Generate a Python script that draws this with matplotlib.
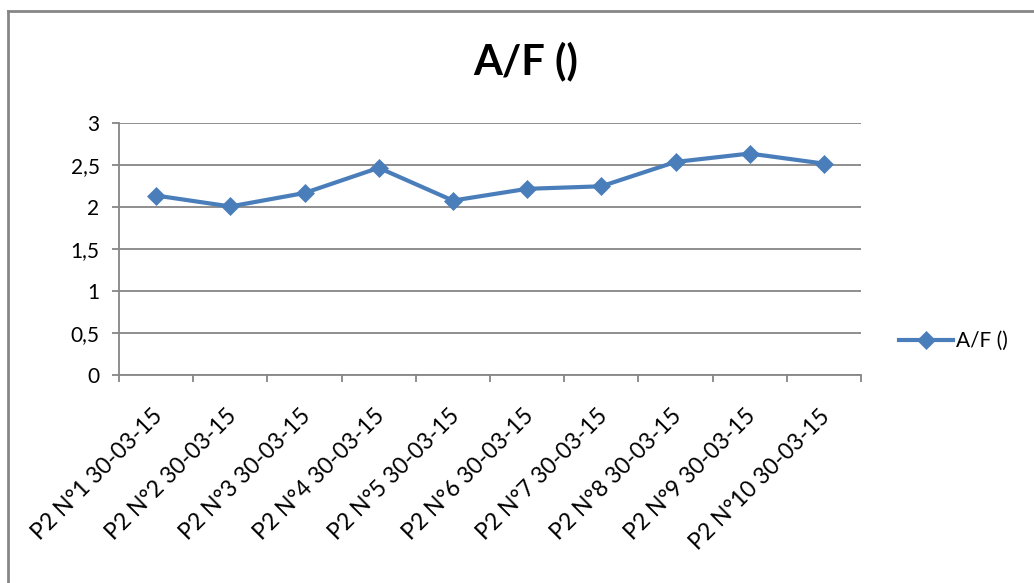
import matplotlib
matplotlib.use("Agg")
import matplotlib.pyplot as plt
import matplotlib.transforms as mtransforms
from matplotlib.lines import Line2D

plt.rcParams["font.family"] = ["Lato", "DejaVu Sans"]

# data
categories = [
    "P2 N°1 30-03-15", "P2 N°2 30-03-15", "P2 N°3 30-03-15", "P2 N°4 30-03-15",
    "P2 N°5 30-03-15", "P2 N°6 30-03-15", "P2 N°7 30-03-15", "P2 N°8 30-03-15",
    "P2 N°9 30-03-15", "P2 N°10 30-03-15",
]
af_values = [2.14, 2.01, 2.17, 2.47, 2.08, 2.22, 2.25, 2.54, 2.64, 2.52]
y_ticks = [0, 0.5, 1, 1.5, 2, 2.5, 3]
y_tick_labels = ["0", "0,5", "1", "1,5", "2", "2,5", "3"]
series_name = "A/F ()"

blue = "#4A7EBB"
grey = "#868686"
fs = 15

fig = plt.figure(figsize=(10.34, 5.83), dpi=100)
ax = fig.add_axes([119 / 1034, 1 - 375.3 / 583, (861 - 119) / 1034, (375.3 - 123.3) / 583])

x = list(range(len(categories)))
ax.plot(x, af_values, color=blue, linewidth=3, marker="D", markersize=9,
        markeredgewidth=0.5, markeredgecolor=blue, label=series_name, zorder=3)

ax.set_xlim(-0.5, len(categories) - 0.5)
ax.set_ylim(0, 3)
ax.set_yticks(y_ticks)
ax.set_yticklabels(y_tick_labels, fontsize=fs)
ax.yaxis.grid(True, color=grey, linewidth=1.3)
ax.set_axisbelow(True)

# category labels on major ticks, tick marks on the boundaries
ax.set_xticks(x)
ax.set_xticklabels(categories, fontsize=16.5, rotation=45, ha="right", va="center",
                   rotation_mode="anchor")
ax.set_xticks([i - 0.5 for i in range(len(categories) + 1)], minor=True)
ax.tick_params(axis="x", which="major", length=0, pad=27)
ax.tick_params(axis="x", which="minor", length=5, width=1.3, color=grey)
ax.tick_params(axis="y", length=5, width=1.3, color=grey, pad=9)
shift = mtransforms.ScaledTranslation(3 / 100, 0, fig.dpi_scale_trans)
for lbl in ax.get_xticklabels():
    lbl.set_transform(lbl.get_transform() + shift)

for side in ["top", "right"]:
    ax.spines[side].set_visible(False)
for side in ["left", "bottom"]:
    ax.spines[side].set_color(grey)
    ax.spines[side].set_linewidth(1.3)

fig.text(526 / 1034, 1 - 61 / 583, series_name, fontsize=30, fontweight="bold",
         ha="center", va="center")

ax.legend(loc="center left", bbox_to_anchor=(899 / 1034, 1 - 341 / 583),
          bbox_transform=fig.transFigure, frameon=False, fontsize=fs,
          handlelength=2.6, handletextpad=0.15, borderpad=0, borderaxespad=0)

# chart frame (only top and left edges are visible in the crop)
fig.add_artist(Line2D([8 / 1034, 8 / 1034], [0, 1 - 11 / 583], color=grey, linewidth=2,
                      transform=fig.transFigure))
fig.add_artist(Line2D([8 / 1034, 1], [1 - 11 / 583, 1 - 11 / 583], color=grey, linewidth=2,
                      transform=fig.transFigure))

fig.savefig("out.png", dpi=100)
plt.close(fig)
